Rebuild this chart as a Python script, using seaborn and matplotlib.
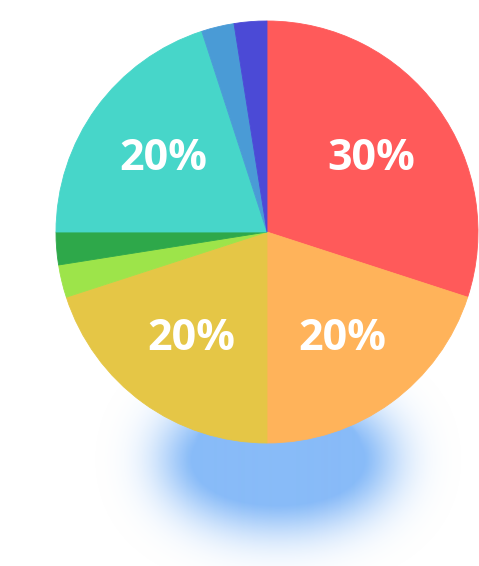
import numpy as np
import matplotlib
matplotlib.use("Agg")
import matplotlib.pyplot as plt
import seaborn as sns

# slice data, clockwise from 12 o'clock
categories = ["A", "B", "C", "D", "E", "F", "G", "H"]
values = [30, 20, 20, 2.5, 2.5, 20, 2.5, 2.5]
colors = ["#FF5A5A", "#FFB35A", "#E5C646", "#9DE44A",
          "#2EA84A", "#47D6C9", "#4A9BD6", "#4B4AD6"]


def blur2d(arr, sigma):
    k = np.arange(-3 * sigma, 3 * sigma + 1)
    kern = np.exp(-k ** 2 / (2 * sigma ** 2))
    kern /= kern.sum()
    out = np.apply_along_axis(lambda r: np.convolve(r, kern, mode="same"), 1, arr)
    return np.apply_along_axis(lambda c: np.convolve(c, kern, mode="same"), 0, out)


def glow(width, height, cx, cy, a, b):
    """Soft blue shadow under the pie: a flat ellipse plus a wide blurred halo."""
    yy, xx = np.mgrid[0:height, 0:width]
    d = np.sqrt(((xx - cx) / a) ** 2 + ((yy - cy) / b) ** 2)
    core = blur2d((d <= 1).astype(float), 3)
    dh = np.sqrt(((xx - cx) / (a + 25)) ** 2 + ((yy - cy - 14) / (b + 18)) ** 2)
    halo = blur2d((dh <= 1).astype(float), 28) * 1.45
    alpha = np.clip(np.maximum(core, halo), 0, 1)
    img = np.zeros((height, width, 4))
    img[..., 0] = 136 / 255
    img[..., 1] = 187 / 255
    img[..., 2] = 248 / 255
    img[..., 3] = alpha
    return img


if __name__ == "__main__":
    sns.set_style("white")
    plt.rcParams["font.family"] = ["Open Sans", "DejaVu Sans"]

    fig = plt.figure(figsize=(4.79, 5.66), dpi=100)
    ax = fig.add_axes([0, 0, 1, 1])

    # shadow (pixel units, pie centre at origin)
    W, H = 479, 360
    shadow = glow(W, H, W / 2, H / 2, 89, 44)
    ax.imshow(shadow, extent=(10 - W / 2, 10 + W / 2, -213 - H / 2, -213 + H / 2),
              origin="upper", zorder=0, interpolation="bilinear")

    wedges, texts, autotexts = ax.pie(
        values,
        colors=colors,
        startangle=90,
        counterclock=False,
        radius=211,
        autopct=lambda p: f"{p:.0f}%" if p >= 5 else "",
        pctdistance=0.61,
        wedgeprops=dict(linewidth=0.6),
        textprops=dict(color="white", fontsize=31),
    )
    for w, c in zip(wedges, colors):
        w.set_edgecolor(c)
        w.set_zorder(2)
    for t in autotexts:
        t.set_fontweight("bold")
        t.set_zorder(3)
        x, y = t.get_position()
        t.set_position((x, y - 2))

    ax.set_xlim(-267, 212)
    ax.set_ylim(-334, 232)
    ax.set_aspect("equal")
    ax.axis("off")

    plt.savefig("out.png", dpi=100, facecolor="white")
